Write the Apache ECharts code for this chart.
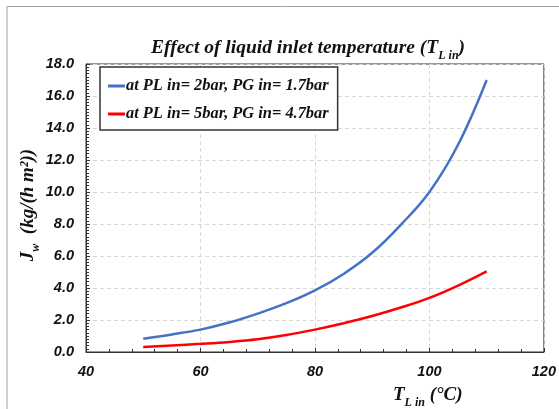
<!DOCTYPE html>
<html><head><meta charset="utf-8">
<script src="https://cdn.jsdelivr.net/npm/echarts@6/dist/echarts.min.js"></script>
<style>html,body{margin:0;padding:0;background:#fff}#c{width:559px;height:409px}</style>
</head><body><div id="c"></div>
<script>
const temps = [50, 55, 60, 65, 70, 75, 80, 85, 90, 95, 100, 105, 110];
const jwLow = [0.83, 1.10, 1.40, 1.84, 2.40, 3.05, 3.85, 4.88, 6.20, 7.95, 10.0, 12.95, 17.0];
const jwHigh = [0.32, 0.41, 0.51, 0.63, 0.80, 1.06, 1.40, 1.80, 2.25, 2.78, 3.38, 4.15, 5.04];
const seriesNames = ['at PL in= 2bar, PG in= 1.7bar', 'at PL in= 5bar, PG in= 4.7bar'];
const xTicks = [40, 60, 80, 100, 120];
const yTicks = [0, 2, 4, 6, 8, 10, 12, 14, 16, 18];

const serif = '"Liberation Serif", "DejaVu Serif", serif';
const sans = '"Liberation Sans", Arial, sans-serif';
const chart = echarts.init(document.getElementById('c'), null, {renderer: 'canvas'});
function richSet(big, small) {
  return {
    t: {fontFamily: serif, fontWeight: 'bold', fontStyle: 'italic', fontSize: big, color: '#111', fill: '#111', verticalAlign: 'bottom'},
    s: {fontFamily: serif, fontWeight: 'bold', fontStyle: 'italic', fontSize: small, color: '#111', fill: '#111', verticalAlign: 'bottom', padding: [0, 0, -4, 0]}
  };
}
chart.setOption({
  animation: false,
  backgroundColor: '#fff',
  graphic: [{
    type: 'polyline', silent: true,
    shape: {points: [[7, 420], [7, 6.5], [570, 6.5]]},
    style: {stroke: '#a0a0a0', lineWidth: 1, fill: null}
  }, {
    type: 'text', silent: true,
    x: 28, y: 205, rotation: Math.PI / 2,
    style: {
      text: '{t|J}{s|w}{t|  (kg/(h m²))}',
      rich: richSet(19, 12),
      align: 'center', verticalAlign: 'middle'
    }
  }],
  title: [{
    left: 146, top: 33,
    text: '{t|Effect of liquid inlet temperature (T}{s|L in}{t|)}',
    textStyle: {rich: richSet(19.5, 12)}
  }, {
    left: 388, top: 381,
    text: '{t|T}{s|L in}{t| (°C)}',
    textStyle: {rich: richSet(19, 12)}
  }],
  legend: {
    orient: 'vertical', left: 100, top: 67,
    backgroundColor: '#fff', borderColor: '#333', borderWidth: 1.5,
    padding: [10, 9, 7, 8], itemGap: 10, itemWidth: 17, itemHeight: 3,
    icon: 'rect',
    textStyle: {fontFamily: serif, fontWeight: 'bold', fontStyle: 'italic', fontSize: 16.4, lineHeight: 18, color: '#111', padding: [0, 0, 0, -4]},
    data: seriesNames
  },
  grid: {left: 86, right: 14, top: 64, bottom: 57, show: true, borderColor: '#333', borderWidth: 1},
  xAxis: {
    type: 'value', min: xTicks[0], max: xTicks[xTicks.length - 1], interval: 20,
    axisLine: {show: true, lineStyle: {color: '#333', width: 1}},
    axisTick: {show: true, inside: true, length: 4, lineStyle: {color: '#333'}},
    minorTick: {show: true, splitNumber: 5, length: 3, lineStyle: {color: '#333'}},
    splitLine: {show: true, lineStyle: {color: '#d8d8d8', type: [4, 3]}},
    axisLabel: {margin: 12, fontFamily: sans, fontWeight: 'bold', fontStyle: 'italic', fontSize: 14.5, color: '#111'}
  },
  yAxis: {
    type: 'value', min: yTicks[0], max: yTicks[yTicks.length - 1], interval: 2,
    axisLine: {show: true, lineStyle: {color: '#333', width: 1}},
    axisTick: {show: true, inside: true, length: 4, lineStyle: {color: '#333'}},
    minorTick: {show: true, splitNumber: 10, length: 3, lineStyle: {color: '#333'}},
    splitLine: {show: true, lineStyle: {color: '#d8d8d8', type: [4, 3]}},
    axisLabel: {margin: 12, formatter: v => v.toFixed(1), fontFamily: sans, fontWeight: 'bold', fontStyle: 'italic', fontSize: 14.5, color: '#111'}
  },
  series: [{
    name: seriesNames[0], type: 'line', smooth: 0.4, showSymbol: false,
    data: temps.map((t, i) => [t, jwLow[i]]),
    lineStyle: {color: '#4472C4', width: 2.5}, itemStyle: {color: '#4472C4'}
  }, {
    name: seriesNames[1], type: 'line', smooth: 0.4, showSymbol: false,
    data: temps.map((t, i) => [t, jwHigh[i]]),
    lineStyle: {color: '#FF0000', width: 2.5}, itemStyle: {color: '#FF0000'}
  }]
});
</script></body></html>
